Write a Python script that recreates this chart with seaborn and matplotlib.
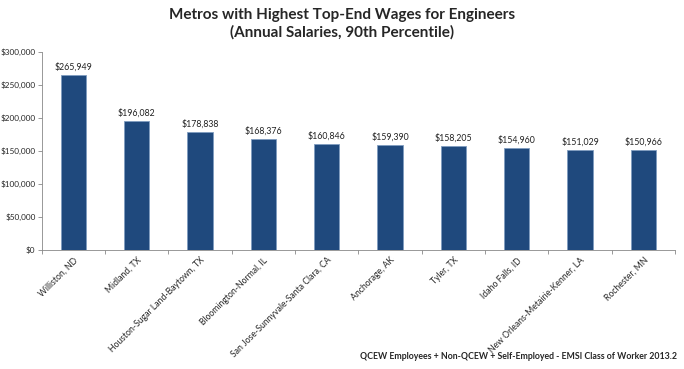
import numpy as np
import pandas as pd
import matplotlib
matplotlib.use("Agg")
import matplotlib.pyplot as plt
import seaborn as sns
from matplotlib.ticker import FuncFormatter

metros = [
    "Williston, ND",
    "Midland, TX",
    "Houston-Sugar Land-Baytown, TX",
    "Bloomington-Normal, IL",
    "San Jose-Sunnyvale-Santa Clara, CA",
    "Anchorage, AK",
    "Tyler, TX",
    "Idaho Falls, ID",
    "New Orleans-Metairie-Kenner, LA",
    "Rochester, MN",
]
salaries = [265949, 196082, 178838, 168376, 160846, 159390, 158205, 154960, 151029, 150966]
yticks = [0, 50000, 100000, 150000, 200000, 250000, 300000]

df = pd.DataFrame({"Metro": metros, "Salary": salaries})

sns.set_style("white")
plt.rcParams["font.family"] = ["Lato", "DejaVu Sans"]

fig = plt.figure(figsize=(6.84, 3.69), dpi=100)
ax = fig.add_axes([0.061, 0.322, 0.926, 0.537])

sns.barplot(data=df, x="Metro", y="Salary", color="#1F497D", width=0.4,
            edgecolor="#7F9DC0", linewidth=0.6, saturation=1, ax=ax)

for i, v in enumerate(salaries):
    ax.text(i, v + 5000, f"${v:,}", ha="center", va="bottom", fontsize=6.3, color="#222222")

ax.set_ylim(0, 300000)
ax.set_xlim(-0.5, len(metros) - 0.5)
ax.set_yticks(yticks)
ax.yaxis.set_major_formatter(FuncFormatter(lambda v, p: f"${int(v):,}"))
ax.tick_params(axis="y", labelsize=5.9, length=3, width=0.6, color="#888888", pad=1.5, left=True)

# category ticks sit on the boundaries, labels at the bar centres
ax.set_xticks(np.arange(len(metros) + 1) - 0.5)
ax.set_xticklabels([])
ax.tick_params(axis="x", which="major", length=3, width=0.6, color="#888888", bottom=True)
ax.set_xticks(np.arange(len(metros)), minor=True)
ax.set_xticklabels(metros, minor=True, rotation=45, ha="right", rotation_mode="anchor", fontsize=6.2)
ax.tick_params(axis="x", which="minor", length=0, pad=4)

ax.set_xlabel("")
ax.set_ylabel("")
for s in ["top", "right"]:
    ax.spines[s].set_visible(False)
for s in ["left", "bottom"]:
    ax.spines[s].set_color("#888888")
    ax.spines[s].set_linewidth(0.6)

fig.text(0.5, 0.935, "Metros with Highest Top-End Wages for Engineers\n(Annual Salaries, 90th Percentile)",
         ha="center", va="center", fontsize=11, fontweight="bold", linespacing=1.25)
fig.text(0.99, 0.035, "QCEW Employees + Non-QCEW + Self-Employed - EMSI Class of Worker 2013.2",
         ha="right", va="center", fontsize=6.3, fontweight="bold")

fig.savefig("out.png", dpi=100)
